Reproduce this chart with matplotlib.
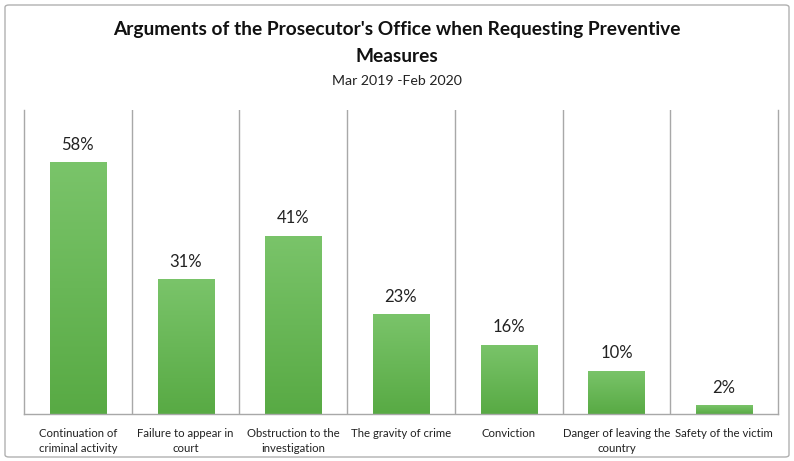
import numpy as np
import matplotlib.pyplot as plt
from matplotlib.patches import FancyBboxPatch

categories = [
    "Continuation of\ncriminal activity",
    "Failure to appear in\ncourt",
    "Obstruction to the\ninvestigation",
    "The gravity of crime",
    "Conviction",
    "Danger of leaving the\ncountry",
    "Safety of the victim",
]
values = [58, 31, 41, 23, 16, 10, 2]

plt.rcParams['font.family'] = ['Lato', 'DejaVu Sans']

fig = plt.figure(figsize=(7.94, 4.61), dpi=100)
W, H = 794, 461
ax = fig.add_axes([24 / W, 1 - 414 / H, 754 / W, 304 / H])

x = np.arange(len(values))
bars = ax.bar(x, values, width=0.52, color='none', edgecolor='none', zorder=2)

# vertical gradient inside each bar
grad = np.linspace(0, 1, 256).reshape(-1, 1)
top = np.array([0x7a, 0xc4, 0x6a]) / 255
bot = np.array([0x58, 0xaa, 0x44]) / 255
img = (bot[None, None, :] * (1 - grad[..., None]) + top[None, None, :] * grad[..., None])
for b, v in zip(bars, values):
    x0, w, h = b.get_x(), b.get_width(), b.get_height()
    im = ax.imshow(img, extent=[x0, x0 + w, 0, h], origin='lower',
                   aspect='auto', zorder=2, interpolation='bilinear')
    im.set_clip_path(b)
    ax.text(x0 + w / 2, h + 2.2, f"{v}%",
            ha='center', va='bottom', fontsize=12, color='#222222')

ax.set_xlim(-0.5, len(values) - 0.5)
ax.set_ylim(0, 70)
for k in range(1, len(values)):
    ax.axvline(k - 0.5, color='#a8a8a8', lw=1.0, zorder=1)
for s in ['left', 'right', 'bottom']:
    ax.spines[s].set_color('#a8a8a8')
    ax.spines[s].set_linewidth(1.0)
ax.spines['top'].set_visible(False)
ax.set_yticks([])
ax.set_xticks(x)
ax.set_xticklabels(categories, fontsize=8.2, color='#222222', linespacing=1.45)
ax.tick_params(axis='x', length=0, pad=10)

fig.text(0.5, 1 - 30 / H, "Arguments of the Prosecutor's Office when Requesting Preventive",
         ha='center', va='center', fontsize=13.8, fontweight='bold', color='#111111')
fig.text(0.5, 1 - 57 / H, "Measures", ha='center', va='center',
         fontsize=13.8, fontweight='bold', color='#111111')
fig.text(0.5, 1 - 81 / H, "Mar 2019 -Feb 2020", ha='center', va='center',
         fontsize=10.2, color='#222222')

frame = FancyBboxPatch((5 / W, 4 / H), 784 / W, 452 / H,
                       boxstyle='round,pad=0,rounding_size=0.005',
                       transform=fig.transFigure, fill=False,
                       edgecolor='#b0b0b0', lw=1.0)
fig.patches.append(frame)

fig.savefig('out.png', dpi=100)
